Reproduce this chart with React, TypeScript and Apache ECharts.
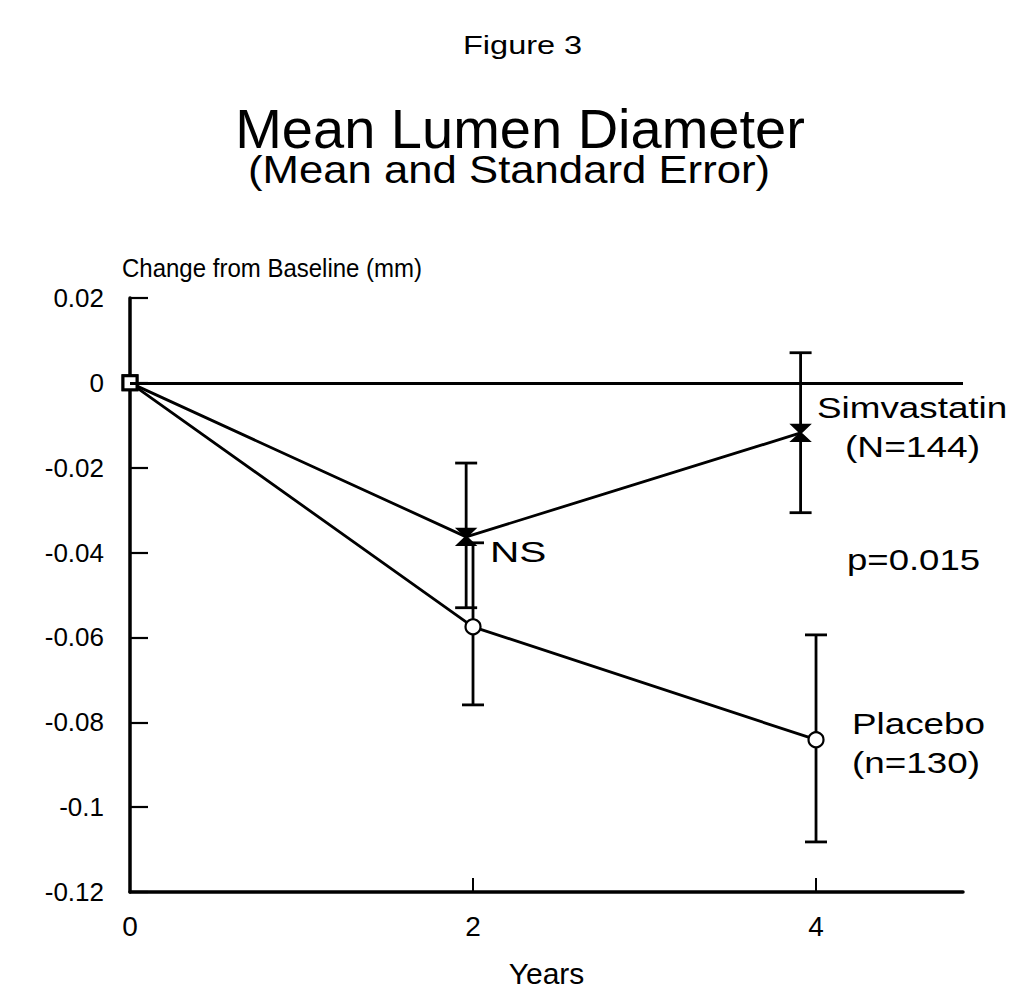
import React, { useEffect, useRef } from "react";
import * as echarts from "echarts";

const FONT = "Liberation Sans, Arial, Helvetica, sans-serif";

// Tick values / axis ranges
const yTicks = [0.02, 0, -0.02, -0.04, -0.06, -0.08, -0.1, -0.12];
const xTickLabels = ["0", "2", "4"];

// Simvastatin (N=144): years, mean change, lower SE, upper SE
const simYears = [0, 1.96, 3.91];
const simMean = [0, -0.0363, -0.0118];
const simLower = [null, -0.053, -0.0306];
const simUpper = [null, -0.0189, 0.0071];

// Placebo (n=130)
const plaYears = [0, 2.0, 4.0];
const plaMean = [0, -0.0575, -0.0841];
const plaLower = [null, -0.0759, -0.1082];
const plaUpper = [null, -0.0377, -0.0594];

const HOURGLASS = "path://M0,0L10,0L5,5L10,10L0,10L5,5Z";

function errorRows(xs: number[], lo: (number | null)[], hi: (number | null)[]) {
  const rows: number[][] = [];
  xs.forEach((x, i) => {
    if (lo[i] != null && hi[i] != null) rows.push([x, lo[i] as number, hi[i] as number]);
  });
  return rows;
}

function meanData(xs: number[], ys: number[], symbol: string, size: number | number[], fill: string) {
  return xs.map((x, i) =>
    i === 0
      ? {
          value: [x, ys[i]],
          symbol: "rect",
          symbolSize: 14,
          itemStyle: { color: "#fff", borderColor: "#000", borderWidth: 3 },
        }
      : { value: [x, ys[i]], symbol, symbolSize: size, itemStyle: { color: fill, borderColor: "#000", borderWidth: 2.2 } }
  );
}

const errorRender = (params: any, api: any) => {
  const x = api.value(0);
  const lo = api.coord([x, api.value(1)]);
  const hi = api.coord([x, api.value(2)]);
  const w = 11;
  const style = { stroke: "#000", lineWidth: 2.8 };
  return {
    type: "group",
    children: [
      { type: "line", shape: { x1: lo[0], y1: lo[1], x2: hi[0], y2: hi[1] }, style },
      { type: "line", shape: { x1: lo[0] - w, y1: lo[1], x2: lo[0] + w, y2: lo[1] }, style },
      { type: "line", shape: { x1: hi[0] - w, y1: hi[1], x2: hi[0] + w, y2: hi[1] }, style },
    ],
  };
};

function txt(text: string, x: number, y: number, size: number, scaleX = 1, align = "left") {
  return {
    type: "text",
    x,
    y,
    scaleX,
    style: {
      text,
      fontSize: size,
      fontFamily: FONT,
      fill: "#000",
      textAlign: align,
      textVerticalAlign: "middle",
    },
  };
}

export default function App() {
  const ref = useRef<HTMLDivElement>(null);
  useEffect(() => {
    if (!ref.current) return;
    const chart = echarts.init(ref.current, null, { renderer: "svg" });
    chart.setOption({
      animation: false,
      backgroundColor: "#fff",
      textStyle: { fontFamily: FONT, color: "#000" },
      grid: { left: 130, top: 298, right: 51, bottom: 99, containLabel: false, outerBoundsMode: "none" },
      xAxis: {
        type: "value",
        min: 0,
        max: 4.857,
        interval: 2,
        name: "Years",
        nameLocation: "middle",
        nameGap: 66,
        nameTextStyle: { fontSize: 30, color: "#000", fontFamily: FONT },
        axisLine: { show: true, onZero: false, lineStyle: { color: "#000", width: 3.5 } },
        axisTick: { show: true, inside: true, length: 14, lineStyle: { color: "#000", width: 2 } },
        axisLabel: {
          fontSize: 28,
          color: "#000",
          margin: 20,
          showMaxLabel: false,
          formatter: (v: number) => (xTickLabels.includes(String(v)) ? String(v) : ""),
        },
        splitLine: { show: false },
      },
      yAxis: {
        type: "value",
        min: yTicks[yTicks.length - 1],
        max: yTicks[0],
        interval: 0.02,
        axisLine: { show: true, onZero: false, lineStyle: { color: "#000", width: 3.5 } },
        axisTick: { show: true, inside: true, length: 18, lineStyle: { color: "#000", width: 2.2 } },
        axisLabel: {
          fontSize: 26,
          color: "#000",
          margin: 26,
          formatter: (v: number) => String(parseFloat(v.toFixed(4))),
        },
        splitLine: { show: false },
      },
      graphic: [
        txt("Figure 3", 463, 45, 26, 1.25),
        txt("Mean Lumen Diameter", 520, 128, 56, 1, "center"),
        txt("(Mean and Standard Error)", 248, 170, 38, 1.15),
        txt("Change from Baseline (mm)", 122, 268, 25, 0.96),
        txt("Simvastatin", 817, 408, 29, 1.27),
        txt("(N=144)", 845, 447, 29, 1.28),
        txt("p=0.015", 847, 560, 29, 1.26),
        txt("Placebo", 852, 724, 29, 1.27),
        txt("(n=130)", 852, 763, 29, 1.27),
        txt("NS", 490, 552, 29, 1.4),
      ],
      series: [
        {
          type: "custom",
          name: "Simvastatin SE",
          renderItem: errorRender,
          data: errorRows(simYears, simLower, simUpper),
          z: 2,
          silent: true,
        },
        {
          type: "custom",
          name: "Placebo SE",
          renderItem: errorRender,
          data: errorRows(plaYears, plaLower, plaUpper),
          z: 2,
          silent: true,
        },
        {
          type: "line",
          name: "Placebo",
          data: meanData(plaYears, plaMean, "circle", 15, "#fff"),
          lineStyle: { color: "#000", width: 2.8 },
          itemStyle: { color: "#fff", borderColor: "#000" },
          showAllSymbol: true,
          z: 3,
          markLine: {
            silent: true,
            symbol: "none",
            label: { show: false },
            lineStyle: { color: "#000", width: 3, type: "solid" },
            data: [{ yAxis: 0 }],
          },
        },
        {
          type: "line",
          name: "Simvastatin",
          data: meanData(simYears, simMean, HOURGLASS, [17, 16], "#000"),
          lineStyle: { color: "#000", width: 2.8 },
          itemStyle: { color: "#000", borderColor: "#000" },
          showAllSymbol: true,
          z: 4,
        },
      ],
    });
    return () => chart.dispose();
  }, []);
  return (
    <div
      ref={ref}
      style={{ position: "absolute", left: 0, top: 0, width: 1014, height: 991, background: "#fff" }}
    />
  );
}
